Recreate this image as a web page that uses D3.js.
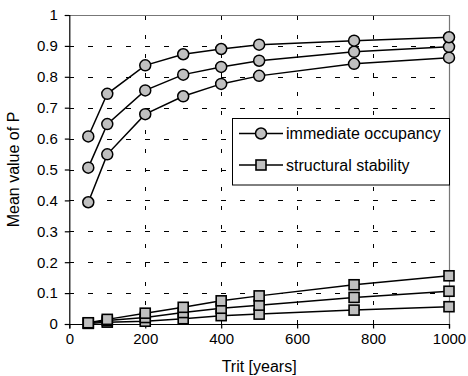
<!DOCTYPE html>
<html>
<head>
<meta charset="utf-8">
<script src="https://cdn.jsdelivr.net/npm/d3@7"></script>
<style>
  html, body { margin: 0; padding: 0; background: #fff; }
  svg { display: block; font-family: Arial, "Liberation Sans", sans-serif; }
</style>
</head>
<body>
<svg id="chart" width="468" height="376"></svg>
<script>
// Return period Trit (years) at which P was evaluated
const tritYears = [50, 100, 200, 300, 400, 500, 750, 1000];

// Immediate occupancy: three curves of mean P
const ioUpper  = [0.607, 0.745, 0.837, 0.873, 0.890, 0.904, 0.917, 0.928];
const ioMiddle = [0.506, 0.647, 0.756, 0.807, 0.832, 0.852, 0.881, 0.897];
const ioLower  = [0.394, 0.549, 0.679, 0.737, 0.777, 0.803, 0.842, 0.862];

// Structural stability: three curves of mean P
const ssUpper  = [0.004, 0.015, 0.035, 0.054, 0.075, 0.091, 0.127, 0.156];
const ssMiddle = [0.003, 0.011, 0.021, 0.037, 0.051, 0.061, 0.086, 0.106];
const ssLower  = [0.002, 0.006, 0.009, 0.017, 0.027, 0.032, 0.045, 0.056];

const xTicks = [0, 200, 400, 600, 800, 1000];
const yTicks = [0, 0.1, 0.2, 0.3, 0.4, 0.5, 0.6, 0.7, 0.8, 0.9, 1];

const legendLabels = ["immediate occupancy", "structural stability"];

const svg = d3.select("#chart");
const m = { left: 69.3, right: 449, top: 15, bottom: 324 };

const x = d3.scaleLinear().domain([0, 1000]).range([m.left, m.right]);
const y = d3.scaleLinear().domain([0, 1]).range([m.bottom, m.top]);

const markFill = "#c0c0c0";

// dashed grid
const grid = svg.append("g").attr("stroke", "#000").attr("stroke-width", 1)
  .attr("stroke-dasharray", "4.5,14.5").attr("shape-rendering", "crispEdges");
grid.selectAll("line.h").data(yTicks.filter(d => d > 0)).join("line")
  .attr("class", "h")
  .attr("x1", m.left).attr("x2", m.right)
  .attr("y1", d => Math.round(y(d)) + 0.5).attr("y2", d => Math.round(y(d)) + 0.5);
grid.selectAll("line.v").data(xTicks.filter(d => d > 0 && d < 1000)).join("line")
  .attr("class", "v")
  .attr("y1", m.bottom).attr("y2", m.top)
  .attr("x1", d => Math.round(x(d)) + 0.5).attr("x2", d => Math.round(x(d)) + 0.5);

// plot-area frame on top and right
svg.append("path")
  .attr("d", `M${m.left},${Math.round(m.top) + 0.5}H${Math.round(m.right) + 0.5}V${m.bottom}`)
  .attr("fill", "none").attr("stroke", "#777").attr("stroke-width", 1.2);

// axes
const xAxis = d3.axisBottom(x).tickValues(xTicks).tickSize(4.5).tickPadding(5)
  .tickFormat(d3.format("d"));
const yAxis = d3.axisLeft(y).tickValues(yTicks).tickSize(4.5).tickPadding(7)
  .tickFormat(d => d === 0 ? "0" : d === 1 ? "1" : d3.format(".1f")(d));

const gx = svg.append("g").attr("transform", `translate(0,${m.bottom})`).call(xAxis);
const gy = svg.append("g").attr("transform", `translate(${m.left},0)`).call(yAxis);
[gx, gy].forEach(g => {
  g.select(".domain").attr("stroke", "#000").attr("stroke-width", 1.2);
  g.selectAll(".tick line").attr("stroke", "#000").attr("stroke-width", 1.2);
  g.selectAll(".tick text").attr("fill", "#000").attr("font-size", 15)
    .attr("font-family", "Arial, 'Liberation Sans', sans-serif");
});

// axis titles
svg.append("text")
  .attr("x", (m.left + m.right) / 2).attr("y", 372)
  .attr("text-anchor", "middle").attr("font-size", 16).text("Trit [years]");
svg.append("text")
  .attr("transform", `translate(19,${(m.top + m.bottom) / 2}) rotate(-90)`)
  .attr("text-anchor", "middle").attr("font-size", 16).text("Mean value of P");

const line = d3.line().x((d, i) => x(tritYears[i])).y(d => y(d));

function drawSeries(values, shape) {
  const g = svg.append("g");
  g.append("path").datum(values).attr("d", line)
    .attr("fill", "none").attr("stroke", "#000").attr("stroke-width", 1.5);
  if (shape === "circle") {
    g.selectAll("circle").data(values).join("circle")
      .attr("cx", (d, i) => x(tritYears[i])).attr("cy", d => y(d)).attr("r", 5.5)
      .attr("fill", markFill).attr("stroke", "#000").attr("stroke-width", 1.5);
  } else {
    g.selectAll("rect").data(values).join("rect")
      .attr("x", (d, i) => x(tritYears[i]) - 5).attr("y", d => y(d) - 5)
      .attr("width", 10).attr("height", 10)
      .attr("fill", markFill).attr("stroke", "#000").attr("stroke-width", 1.6);
  }
}

[ssLower, ssMiddle, ssUpper].forEach(v => drawSeries(v, "square"));
[ioLower, ioMiddle, ioUpper].forEach(v => drawSeries(v, "circle"));

// legend
const lg = svg.append("g");
lg.append("rect").attr("x", 232.5).attr("y", 118.5).attr("width", 217).attr("height", 66.5)
  .attr("fill", "#fff").attr("stroke", "#000").attr("stroke-width", 1);
const rowsY = [133.5, 165];
legendLabels.forEach((label, i) => {
  const ry = rowsY[i];
  lg.append("line").attr("x1", 239).attr("x2", 283).attr("y1", ry).attr("y2", ry)
    .attr("stroke", "#000").attr("stroke-width", 1.5);
  if (i === 0) {
    lg.append("circle").attr("cx", 261).attr("cy", ry).attr("r", 5.5)
      .attr("fill", markFill).attr("stroke", "#000").attr("stroke-width", 1.5);
  } else {
    lg.append("rect").attr("x", 256).attr("y", ry - 5).attr("width", 10).attr("height", 10)
      .attr("fill", markFill).attr("stroke", "#000").attr("stroke-width", 1.6);
  }
  lg.append("text").attr("x", 286).attr("y", ry).attr("dy", "0.35em")
    .attr("font-size", 16).text(label);
});
</script>
</body>
</html>
